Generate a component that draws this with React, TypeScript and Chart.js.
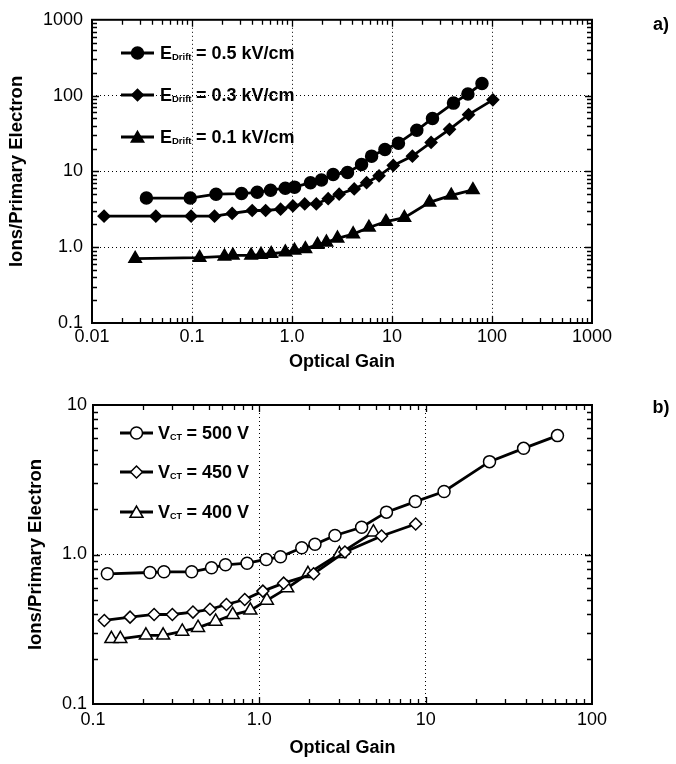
import React, { useEffect, useRef } from "react";
import { Chart, registerables } from "chart.js";

Chart.register(...registerables);

const FONT = "'Liberation Sans', Arial, Helvetica, sans-serif";

// ---------- Panel a) : E_Drift series ----------
const aX05 = [0.035, 0.096, 0.174, 0.313, 0.449, 0.611, 0.857, 1.06, 1.53, 1.97, 2.58, 3.59, 4.96, 6.25, 8.5, 11.6, 17.7, 25.4, 41.2, 57.4, 79.4];
const aY05 = [4.45, 4.45, 5.0, 5.1, 5.3, 5.65, 6.0, 6.2, 7.1, 7.7, 9.1, 9.7, 12.3, 15.9, 19.4, 23.6, 34.8, 49.9, 79.6, 105, 144];

const aX03 = [0.0132, 0.0435, 0.098, 0.168, 0.252, 0.4, 0.545, 0.769, 1.02, 1.34, 1.75, 2.3, 2.96, 4.19, 5.57, 7.42, 10.3, 16.0, 24.6, 37.6, 58.3, 102];
const aY03 = [2.57, 2.57, 2.57, 2.57, 2.79, 3.05, 3.05, 3.17, 3.5, 3.72, 3.72, 4.36, 5.0, 5.87, 7.1, 8.74, 12.0, 15.9, 24.1, 35.9, 56.1, 87.9];

const aX01 = [0.027, 0.119, 0.211, 0.256, 0.39, 0.49, 0.62, 0.857, 1.06, 1.36, 1.8, 2.21, 2.85, 4.09, 5.88, 8.7, 13.3, 23.7, 39.1, 64.4];
const aY01 = [0.706, 0.727, 0.757, 0.78, 0.78, 0.8, 0.82, 0.86, 0.905, 0.95, 1.08, 1.16, 1.31, 1.49, 1.82, 2.17, 2.45, 3.9, 4.82, 5.7];

const aLegendMain = ["E", "E", "E"];
const aLegendSub = ["Drift", "Drift", "Drift"];
const aLegendRest = ["= 0.5 kV/cm", "= 0.3 kV/cm", "= 0.1 kV/cm"];

const aXTickValues = [0.01, 0.1, 1, 10, 100, 1000];
const aXTickLabels = ["0.01", "0.1", "1.0", "10", "100", "1000"];
const aYTickValues = [0.1, 1, 10, 100, 1000];
const aYTickLabels = ["0.1", "1.0", "10", "100", "1000"];

// ---------- Panel b) : V_CT series ----------
const bX500 = [0.122, 0.22, 0.267, 0.392, 0.516, 0.626, 0.844, 1.1, 1.34, 1.8, 2.16, 2.85, 4.12, 5.81, 8.67, 12.9, 24.2, 38.8, 62.0];
const bY500 = [0.743, 0.758, 0.766, 0.766, 0.815, 0.853, 0.875, 0.926, 0.965, 1.11, 1.17, 1.34, 1.52, 1.92, 2.26, 2.64, 4.18, 5.13, 6.24];

const bX450 = [0.117, 0.167, 0.233, 0.3, 0.399, 0.505, 0.634, 0.817, 1.05, 1.4, 2.12, 3.27, 5.43, 8.71];
const bY450 = [0.362, 0.381, 0.397, 0.397, 0.412, 0.43, 0.463, 0.5, 0.569, 0.643, 0.743, 1.04, 1.33, 1.6];

const bX400 = [0.129, 0.146, 0.208, 0.264, 0.344, 0.428, 0.546, 0.692, 0.883, 1.11, 1.47, 1.96, 3.03, 4.85];
const bY400 = [0.273, 0.273, 0.288, 0.288, 0.306, 0.324, 0.357, 0.395, 0.423, 0.493, 0.596, 0.743, 1.01, 1.41];

const bLegendMain = ["V", "V", "V"];
const bLegendSub = ["CT", "CT", "CT"];
const bLegendRest = ["= 500 V", "= 450 V", "= 400 V"];

const bXTickValues = [0.1, 1, 10, 100];
const bXTickLabels = ["0.1", "1.0", "10", "100"];
const bYTickValues = [0.1, 1, 10];
const bYTickLabels = ["0.1", "1.0", "10"];

const AXIS_TITLE_X = "Optical Gain";
const AXIS_TITLE_Y = "Ions/Primary Electron";

// ---------- helpers ----------
const pts = (xs: number[], ys: number[]) => xs.map((x, i) => ({ x, y: ys[i] }));

function labelFor(values: number[], labels: string[]) {
  return (v: any) => {
    const n = Number(v);
    const i = values.findIndex((t) => Math.abs(t - n) / t < 1e-6);
    return i >= 0 ? labels[i] : "";
  };
}

function drawMarker(ctx: CanvasRenderingContext2D, style: string, x: number, y: number, r: number, filled: boolean) {
  ctx.beginPath();
  if (style === "circle") {
    ctx.arc(x, y, r, 0, Math.PI * 2);
  } else if (style === "rectRot") {
    ctx.moveTo(x - r, y);
    ctx.lineTo(x, y - r);
    ctx.lineTo(x + r, y);
    ctx.lineTo(x, y + r);
    ctx.closePath();
  } else {
    for (let k = 0; k < 3; k++) {
      const a = (k * 2 * Math.PI) / 3;
      const px = x + Math.sin(a) * r;
      const py = y - Math.cos(a) * r;
      if (k === 0) ctx.moveTo(px, py);
      else ctx.lineTo(px, py);
    }
    ctx.closePath();
  }
  ctx.fillStyle = filled ? "#000" : "#fff";
  ctx.fill();
  ctx.lineWidth = 1.5;
  ctx.strokeStyle = "#000";
  ctx.stroke();
}

const framePlugin = {
  id: "frameTicks",
  afterDatasetsDraw(chart: any) {
    const { ctx, chartArea } = chart;
    const { left, right, top, bottom } = chartArea;
    const xs = chart.scales.x;
    const ys = chart.scales.y;
    ctx.save();
    ctx.strokeStyle = "#000";
    ctx.lineWidth = 1.3;
    const minorLen = 5;
    const majorLen = 7;
    const eachLog = (min: number, max: number, fn: (v: number, m: number) => void) => {
      const d0 = Math.floor(Math.log10(min) + 1e-9);
      const d1 = Math.ceil(Math.log10(max) - 1e-9);
      for (let d = d0; d <= d1; d++) {
        for (let m = 1; m <= 9; m++) {
          const v = m * Math.pow(10, d);
          if (v <= min * (1 + 1e-6) || v >= max * (1 - 1e-6)) continue;
          fn(v, m);
        }
      }
    };
    ctx.beginPath();
    eachLog(xs.min, xs.max, (v, m) => {
      const p = Math.round(xs.getPixelForValue(v)) + 0.5;
      const len = m === 1 ? majorLen : minorLen;
      ctx.moveTo(p, bottom);
      ctx.lineTo(p, bottom - len);
      ctx.moveTo(p, top);
      ctx.lineTo(p, top + len);
    });
    eachLog(ys.min, ys.max, (v, m) => {
      const p = Math.round(ys.getPixelForValue(v)) + 0.5;
      const len = m === 1 ? majorLen : minorLen;
      ctx.moveTo(left, p);
      ctx.lineTo(left + len, p);
      ctx.moveTo(right, p);
      ctx.lineTo(right - len, p);
    });
    ctx.stroke();
    ctx.lineWidth = 2;
    ctx.strokeRect(left, top, right - left, bottom - top);
    ctx.restore();
  },
};

const annotPlugin = {
  id: "annot",
  afterDraw(chart: any, _args: any, opts: any) {
    const ctx: CanvasRenderingContext2D = chart.ctx;
    ctx.save();
    ctx.fillStyle = "#000";
    ctx.textBaseline = "middle";
    ctx.textAlign = "center";
    ctx.font = `bold 18px ${FONT}`;
    ctx.fillText(opts.panel, opts.panelX, opts.panelY);
    const ds = chart.data.datasets;
    opts.rows.forEach((row: any, i: number) => {
      const y = opts.legendY[i];
      const d = ds[i];
      ctx.beginPath();
      ctx.strokeStyle = "#000";
      ctx.lineWidth = 2.8;
      ctx.moveTo(opts.lineX0, y);
      ctx.lineTo(opts.lineX1, y);
      ctx.stroke();
      drawMarker(ctx, d.pointStyle, (opts.lineX0 + opts.lineX1) / 2, y + (d.pointStyle === "triangle" ? 1.5 : 0), d.pointRadius, d.pointBackgroundColor === "#000");
      ctx.fillStyle = "#000";
      ctx.textAlign = "left";
      ctx.textBaseline = "alphabetic";
      let x = opts.textX;
      const base = y + 6;
      ctx.font = `bold 18px ${FONT}`;
      ctx.fillText(row.main, x, base);
      x += ctx.measureText(row.main).width;
      ctx.font = `bold ${opts.subSize}px ${FONT}`;
      ctx.fillText(row.sub, x, base + 1);
      x += ctx.measureText(row.sub).width + 4.5;
      ctx.font = `bold 18px ${FONT}`;
      ctx.fillText(row.rest, x, base);
    });
    ctx.restore();
  },
};

function makeConfig(p: any) {
  return {
    type: "scatter",
    data: { datasets: p.datasets },
    plugins: [framePlugin, annotPlugin],
    options: {
      responsive: false,
      animation: false,
      events: [],
      layout: { padding: p.padding },
      plugins: {
        legend: { display: false },
        tooltip: { enabled: false },
        annot: p.annot,
      },
      scales: {
        x: {
          type: "logarithmic",
          min: p.xMin,
          max: p.xMax,
          afterBuildTicks: (s: any) => {
            s.ticks = p.xTicks.map((v: number) => ({ value: v }));
          },
          afterFit: (s: any) => {
            s.height = p.xAxisHeight;
          },
          ticks: {
            autoSkip: false,
            maxRotation: 0,
            padding: p.xTickPad,
            color: "#000",
            font: { family: FONT, size: 18 },
            callback: labelFor(p.xTicks, p.xLabels),
          },
          grid: { color: "#000", lineWidth: 1, drawTicks: false },
          border: { display: false, dash: [1, 3] },
          title: {
            display: true,
            text: AXIS_TITLE_X,
            color: "#000",
            font: { family: FONT, size: 18, weight: "bold" },
            padding: { top: 0, bottom: 0 },
          },
        },
        y: {
          type: "logarithmic",
          min: p.yMin,
          max: p.yMax,
          afterBuildTicks: (s: any) => {
            s.ticks = p.yTicks.map((v: number) => ({ value: v }));
          },
          afterFit: (s: any) => {
            s.width = p.yAxisWidth;
          },
          ticks: {
            autoSkip: false,
            padding: p.yTickPad,
            color: "#000",
            font: { family: FONT, size: 18 },
            callback: labelFor(p.yTicks, p.yLabels),
          },
          grid: { color: "#000", lineWidth: 1, drawTicks: false },
          border: { display: false, dash: [1, 3] },
          title: {
            display: true,
            text: AXIS_TITLE_Y,
            color: "#000",
            font: { family: FONT, size: 18.5, weight: "bold" },
            padding: { top: p.yTitlePad, bottom: 0 },
          },
        },
      },
    },
  };
}

function ds(xs: number[], ys: number[], style: string, r: number, filled: boolean) {
  return {
    data: pts(xs, ys),
    showLine: true,
    borderColor: "#000",
    borderWidth: 2.8,
    tension: 0,
    pointStyle: style,
    pointRadius: r,
    pointBorderWidth: 1.5,
    pointBorderColor: "#000",
    pointBackgroundColor: filled ? "#000" : "#fff",
    clip: false,
  };
}

function Panel({ config, width, height, top }: any) {
  const ref = useRef<HTMLCanvasElement>(null);
  useEffect(() => {
    if (!ref.current) return;
    const chart = new Chart(ref.current, config);
    return () => chart.destroy();
  }, []);
  return (
    <canvas
      ref={ref}
      width={width}
      height={height}
      style={{ position: "absolute", left: 0, top, width, height, display: "block" }}
    />
  );
}

export default function App() {
  const cfgA = makeConfig({
    datasets: [
      ds(aX05, aY05, "circle", 6, true),
      ds(aX03, aY03, "rectRot", 5.8, true),
      ds(aX01, aY01, "triangle", 7.2, true),
    ],
    padding: { left: 0, right: 84, top: 15, bottom: 7 },
    xMin: 0.01,
    xMax: 1000,
    yMin: 0.1,
    yMax: 1000,
    xTicks: aXTickValues,
    xLabels: aXTickLabels,
    yTicks: aYTickValues,
    yLabels: aYTickLabels,
    xAxisHeight: 50,
    yAxisWidth: 92,
    xTickPad: 3,
    yTickPad: 9,
    yTitlePad: 6,
    annot: {
      panel: "a)",
      panelX: 661,
      panelY: 25,
      rows: aLegendMain.map((m, i) => ({ main: m, sub: aLegendSub[i], rest: aLegendRest[i] })),
      legendY: [53, 95, 137],
      lineX0: 121,
      lineX1: 154,
      textX: 160,
      subSize: 9.5,
    },
  });
  const cfgB = makeConfig({
    datasets: [
      ds(bX500, bY500, "circle", 6, false),
      ds(bX450, bY450, "rectRot", 6, false),
      ds(bX400, bY400, "triangle", 7.5, false),
    ],
    padding: { left: 0, right: 84, top: 25, bottom: 5 },
    xMin: 0.1,
    xMax: 100,
    yMin: 0.1,
    yMax: 10,
    xTicks: bXTickValues,
    xLabels: bXTickLabels,
    yTicks: bYTickValues,
    yLabels: bYTickLabels,
    xAxisHeight: 55,
    yAxisWidth: 93,
    xTickPad: 5,
    yTickPad: 6,
    yTitlePad: 25,
    annot: {
      panel: "b)",
      panelX: 661,
      panelY: 28,
      rows: bLegendMain.map((m, i) => ({ main: m, sub: bLegendSub[i], rest: bLegendRest[i] })),
      legendY: [53, 92, 132],
      lineX0: 120,
      lineX1: 153,
      textX: 158,
      subSize: 9,
    },
  });
  return (
    <div style={{ position: "absolute", left: 0, top: 0, width: 676, height: 764, background: "#fff" }}>
      <Panel config={cfgA} width={676} height={380} top={0} />
      <Panel config={cfgB} width={676} height={384} top={380} />
    </div>
  );
}
